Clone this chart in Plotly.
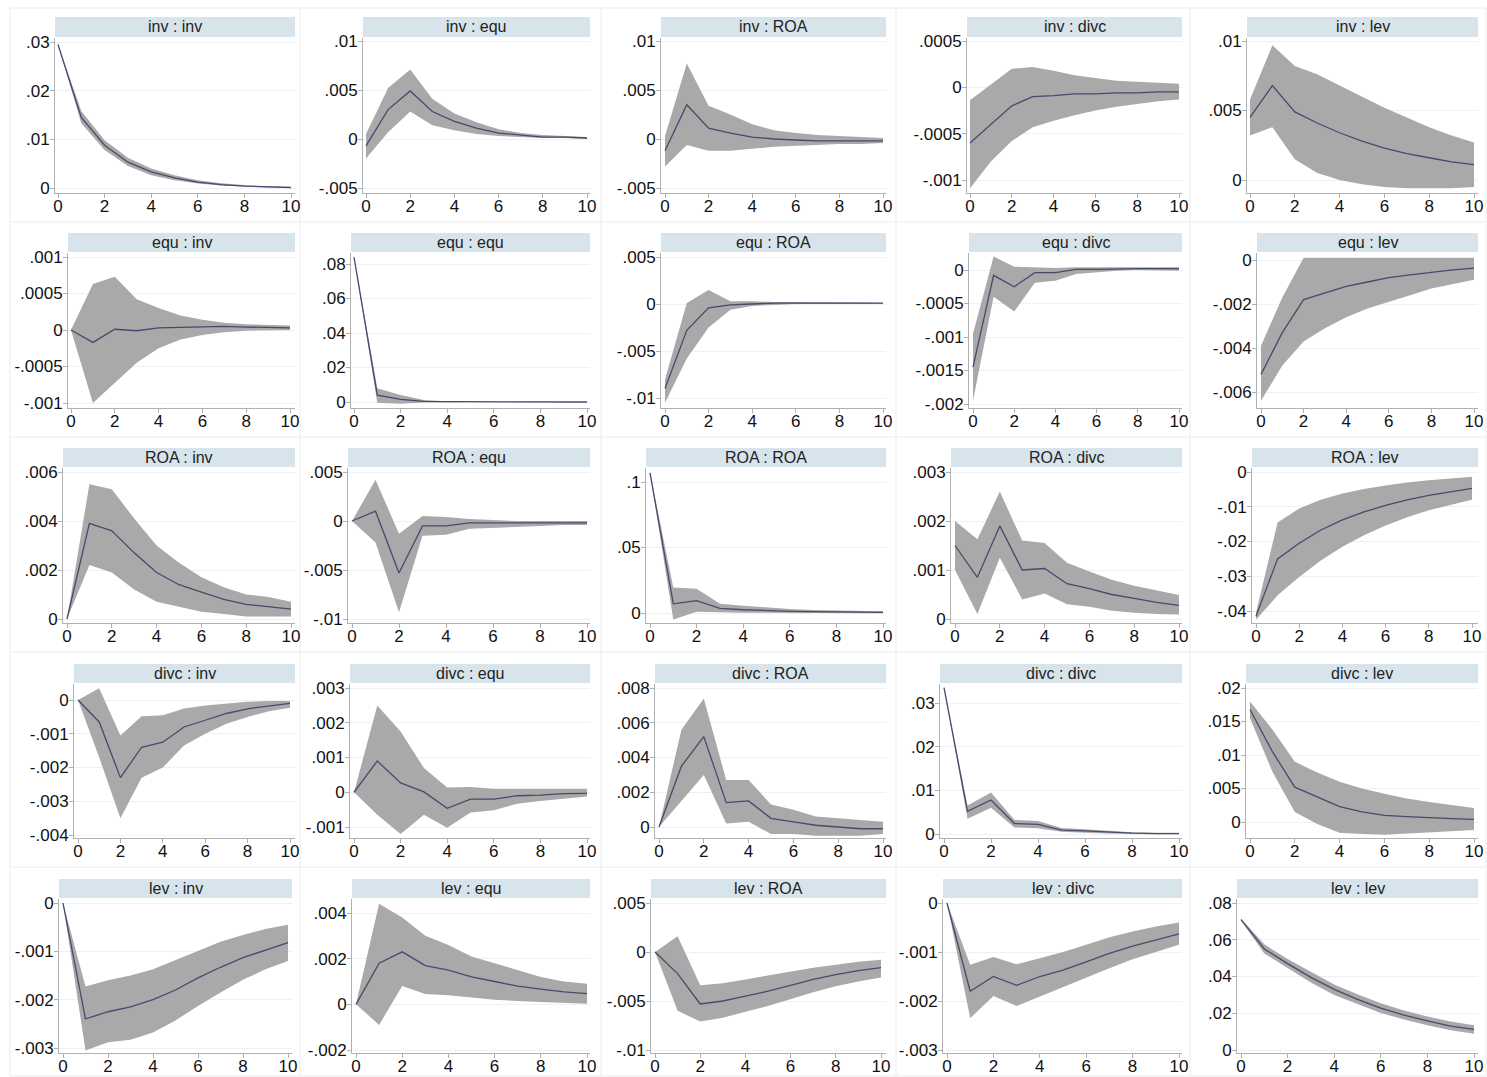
import plotly.graph_objects as go

# ---------------- data ----------------
variables = ["inv", "equ", "ROA", "divc", "lev"]
steps = [0, 1, 2, 3, 4, 5, 6, 7, 8, 9, 10]
x_ticks = [0, 2, 4, 6, 8, 10]

# impulse : response  -> irf, lower, upper
inv_inv_irf = [.0295, .0145, .0088, .0053, .0033, .0021, .0012, .0007, .0004, .0002, .0001]
inv_inv_lo = [.0295, .0133, .0078, .0045, .0026, .0016, .0009, .0005, .0003, .0001, .0000]
inv_inv_hi = [.0295, .0158, .0098, .0062, .0040, .0026, .0016, .0010, .0006, .0003, .0002]

inv_equ_irf = [-.0007, .0030, .0049, .0028, .0018, .0011, .0006, .0004, .0002, .0002, .0001]
inv_equ_lo = [-.0020, .0007, .0028, .0014, .0009, .0005, .0003, .0002, .0001, .0001, .0000]
inv_equ_hi = [.0005, .0052, .0071, .0041, .0026, .0017, .0010, .0006, .0004, .0003, .0002]

inv_ROA_irf = [-.0012, .0035, .0011, .0006, .0002, .0000, -.0001, -.0002, -.0002, -.0002, -.0002]
inv_ROA_lo = [-.0028, -.0006, -.0012, -.0012, -.0010, -.0008, -.0007, -.0006, -.0005, -.0005, -.0004]
inv_ROA_hi = [.0003, .0077, .0034, .0025, .0015, .0009, .0006, .0004, .0003, .0002, .0001]

inv_divc_irf = [-.00060, -.00040, -.00020, -.00010, -.00009, -.00007, -.00007, -.00006, -.00006, -.00005, -.00005]
inv_divc_lo = [-.00109, -.00080, -.00058, -.00043, -.00036, -.00030, -.00025, -.00021, -.00018, -.00015, -.00013]
inv_divc_hi = [-.00014, .00003, .00020, .00022, .00018, .00013, .00010, .00007, .00006, .00005, .00004]

inv_lev_irf = [.0045, .0068, .0049, .0041, .0034, .0028, .0023, .0019, .0016, .0013, .0011]
inv_lev_lo = [.0032, .0038, .0015, .0005, .0000, -.0003, -.0005, -.0006, -.0006, -.0006, -.0005]
inv_lev_hi = [.0058, .0097, .0082, .0076, .0068, .0060, .0052, .0045, .0038, .0032, .0027]

equ_inv_irf = [0, -.00017, .00001, -.00001, .00003, .00004, .00005, .00005, .00004, .00004, .00003]
equ_inv_lo = [0, -.00100, -.00072, -.00045, -.00025, -.00013, -.00007, -.00003, -.00001, .00000, .00000]
equ_inv_hi = [0, .00063, .00073, .00042, .00030, .00020, .00014, .00010, .00008, .00007, .00006]

equ_equ_irf = [.084, .0040, .0015, .0004, .0002, .0001, .0000, .0000, .0000, .0000, .0000]
equ_equ_lo = [.084, -.0005, -.0010, -.0003, -.0001, .0000, .0000, .0000, .0000, .0000, .0000]
equ_equ_hi = [.084, .0080, .0040, .0012, .0005, .0002, .0001, .0001, .0000, .0000, .0000]

equ_ROA_irf = [-.0090, -.0028, -.0004, -.0001, .0000, .0001, .0001, .0001, .0001, .0001, .0001]
equ_ROA_lo = [-.0105, -.0058, -.0025, -.0006, -.0002, -.0001, .0000, .0000, .0000, .0000, .0000]
equ_ROA_hi = [-.0080, .0001, .0015, .0003, .0003, .0002, .0002, .0002, .00015, .00015, .0001]

equ_divc_irf = [-.00145, -.00008, -.00025, -.00004, -.00004, .00001, .00001, .00002, .00002, .00002, .00002]
equ_divc_lo = [-.00195, -.00040, -.00062, -.00019, -.00016, -.00006, -.00003, -.00001, .00000, .00000, -.00001]
equ_divc_hi = [-.00095, .00020, .00005, .00004, .00003, .00004, .00004, .00004, .00004, .00004, .00004]

equ_lev_irf = [-.0052, -.0033, -.0018, -.0015, -.0012, -.0010, -.0008, -.00068, -.00055, -.00045, -.00037]
equ_lev_lo = [-.0064, -.0048, -.0037, -.0031, -.0026, -.0022, -.0019, -.0016, -.0013, -.0011, -.0009]
equ_lev_hi = [-.0039, -.0017, .0001, .0001, .0001, .0001, .0001, .0001, .0001, .0001, .0001]

ROA_inv_irf = [0, .0039, .0036, .0027, .0019, .0014, .0011, .0008, .0006, .0005, .0004]
ROA_inv_lo = [0, .0022, .0019, .0012, .0007, .0005, .0003, .0002, .0001, .0001, .0001]
ROA_inv_hi = [0, .0055, .0053, .0041, .0030, .0023, .0017, .0013, .0010, .0009, .0007]

ROA_equ_irf = [0, .0010, -.0053, -.0005, -.0005, -.0002, -.0002, -.0002, -.0002, -.0002, -.0002]
ROA_equ_lo = [0, -.0022, -.0093, -.0015, -.0014, -.0008, -.0007, -.0006, -.0005, -.0004, -.0004]
ROA_equ_hi = [0, .0042, -.0013, .0005, .0004, .0002, .0001, .0000, .0000, .0000, .0000]

ROA_ROA_irf = [.107, .0070, .0095, .0035, .0025, .0018, .0013, .0010, .0008, .0005, .0005]
ROA_ROA_lo = [.107, -.0050, .0010, .0005, .0002, .0002, .0000, .0000, .0000, -.0001, -.0001]
ROA_ROA_hi = [.107, .0195, .0185, .0070, .0055, .0040, .0030, .0022, .0018, .0015, .0013]

ROA_divc_irf = [.00150, .00085, .00190, .00100, .00103, .00072, .00062, .00050, .00042, .00034, .00028]
ROA_divc_lo = [.00100, .00010, .00125, .00040, .00052, .00030, .00025, .00017, .00013, .00010, .00009]
ROA_divc_hi = [.00200, .00163, .00260, .00160, .00155, .00115, .00097, .00080, .00068, .00058, .00049]

ROA_lev_irf = [-.0415, -.0250, -.0205, -.0167, -.0138, -.0115, -.0096, -.0080, -.0067, -.0056, -.0047]
ROA_lev_lo = [-.0425, -.0355, -.0302, -.0255, -.0215, -.0182, -.0154, -.0130, -.0110, -.0094, -.0080]
ROA_lev_hi = [-.0405, -.0145, -.0105, -.0080, -.0062, -.0049, -.0039, -.0030, -.0024, -.0018, -.0014]

divc_inv_irf = [0, -.00065, -.00230, -.00140, -.00125, -.00080, -.00060, -.00040, -.00026, -.00017, -.00010]
divc_inv_lo = [0, -.00170, -.00350, -.00230, -.00200, -.00135, -.00100, -.00070, -.00050, -.00033, -.00023]
divc_inv_hi = [0, .00035, -.00105, -.00048, -.00045, -.00025, -.00016, -.00010, -.00005, -.00003, -.00003]

divc_equ_irf = [0, .00090, .00027, .00001, -.00046, -.00020, -.00020, -.00010, -.00008, -.00004, -.00003]
divc_equ_lo = [0, -.00065, -.00120, -.00065, -.00102, -.00058, -.00052, -.00033, -.00025, -.00018, -.00012]
divc_equ_hi = [0, .00250, .00175, .00070, .00014, .00015, .00010, .00010, .00010, .00010, .00010]

divc_ROA_irf = [0, .0035, .0052, .0014, .0015, .0005, .0003, .0001, .0000, -.0001, -.0001]
divc_ROA_lo = [0, .0015, .0030, .0002, .0003, -.0004, -.0004, -.0005, -.0005, -.0005, -.0004]
divc_ROA_hi = [0, .0056, .0074, .0027, .0027, .0013, .0010, .0006, .0005, .0004, .0003]

divc_divc_irf = [.0335, .0052, .0078, .0024, .0022, .0009, .0007, .0004, .0002, .0001, .0001]
divc_divc_lo = [.0335, .0035, .0060, .0015, .0013, .0005, .0003, .0001, .0000, .0000, .0000]
divc_divc_hi = [.0335, .0065, .0095, .0032, .0030, .0014, .0011, .0007, .0004, .0003, .0003]

divc_lev_irf = [.0168, .0105, .0052, .0037, .0023, .0015, .0010, .0008, .0006, .0005, .0004]
divc_lev_lo = [.0155, .0075, .0015, -.0003, -.0016, -.0018, -.0019, -.0018, -.0016, -.0014, -.0012]
divc_lev_hi = [.0180, .0138, .0090, .0074, .0060, .0050, .0042, .0035, .0030, .0025, .0021]

lev_inv_irf = [0, -.00240, -.00225, -.00215, -.00200, -.00180, -.00155, -.00133, -.00113, -.00097, -.00082]
lev_inv_lo = [0, -.00305, -.00288, -.00283, -.00268, -.00243, -.00213, -.00185, -.00159, -.00137, -.00120]
lev_inv_hi = [0, -.00173, -.00160, -.00150, -.00137, -.00118, -.00098, -.00080, -.00066, -.00054, -.00045]

lev_equ_irf = [0, .0018, .0023, .0017, .0015, .0012, .0010, .0008, .00067, .00055, .00047]
lev_equ_lo = [0, -.0009, .0008, .00045, .0004, .0003, .0002, .00015, .0001, .00005, .00003]
lev_equ_hi = [0, .0044, .0038, .0030, .0026, .0021, .0018, .0015, .0012, .0010, .0009]

lev_ROA_irf = [0, -.0022, -.0053, -.0050, -.0045, -.0040, -.0034, -.0028, -.0023, -.0019, -.0016]
lev_ROA_lo = [0, -.0060, -.0071, -.0067, -.0061, -.0055, -.0048, -.0041, -.0035, -.0030, -.0026]
lev_ROA_hi = [0, .0016, -.0034, -.0032, -.0028, -.0024, -.0020, -.0016, -.0013, -.0010, -.0008]

lev_divc_irf = [0, -.00180, -.00150, -.00168, -.00150, -.00137, -.00120, -.00103, -.00088, -.00075, -.00063]
lev_divc_lo = [0, -.00235, -.00190, -.00210, -.00190, -.00172, -.00152, -.00133, -.00115, -.00100, -.00085]
lev_divc_hi = [0, -.00126, -.00110, -.00125, -.00113, -.00100, -.00085, -.00070, -.00058, -.00048, -.00040]

lev_lev_irf = [.0710, .0550, .0470, .0395, .0330, .0275, .0228, .0190, .0158, .0130, .0112]
lev_lev_lo = [.0705, .0525, .0445, .0368, .0300, .0250, .0202, .0166, .0135, .0108, .0088]
lev_lev_hi = [.0715, .0575, .0495, .0425, .0357, .0303, .0255, .0215, .0182, .0155, .0135]

# y tick values per panel (row = impulse, column = response)
y_ticks = [
    [[0, .01, .02, .03], [-.005, 0, .005, .01], [-.005, 0, .005, .01], [-.001, -.0005, 0, .0005], [0, .005, .01]],
    [[-.001, -.0005, 0, .0005, .001], [0, .02, .04, .06, .08], [-.01, -.005, 0, .005], [-.002, -.0015, -.001, -.0005, 0], [-.006, -.004, -.002, 0]],
    [[0, .002, .004, .006], [-.01, -.005, 0, .005], [0, .05, .1], [0, .001, .002, .003], [-.04, -.03, -.02, -.01, 0]],
    [[-.004, -.003, -.002, -.001, 0], [-.001, 0, .001, .002, .003], [0, .002, .004, .006, .008], [0, .01, .02, .03], [0, .005, .01, .015, .02]],
    [[-.003, -.002, -.001, 0], [-.002, 0, .002, .004], [-.01, -.005, 0, .005], [-.003, -.002, -.001, 0], [0, .02, .04, .06, .08]],
]

series = {name: obj for name, obj in globals().items() if isinstance(obj, list)}


def fmt(v):
    if v == 0:
        return "0"
    s = f"{v:f}".rstrip("0")
    return s.replace("0.", ".", 1)


# ---------------- layout geometry (pixels) ----------------
W, H = 1487, 1077
# per row: strip top, strip bottom, plot top, plot bottom
row_geom = [(17, 37, 38, 193), (233, 252, 253, 408), (448, 467, 468, 623),
            (664, 683, 684, 838), (879, 898, 899, 1053)]
# per panel: plot left, plot right, pixel of x=0, pixel of x=10
x_geom = [
    [(55, 295, 58, 291), (363, 590, 366, 587), (661, 886, 665, 883), (967, 1182, 970, 1179), (1247, 1478, 1250, 1474)],
    [(68, 295, 71, 290), (351, 590, 354, 587), (661, 886, 665, 883), (969, 1182, 973, 1179), (1257, 1478, 1261, 1474)],
    [(63, 295, 67, 291), (348, 590, 352, 587), (646, 886, 650, 883), (951, 1182, 955, 1179), (1252, 1478, 1256, 1472)],
    [(74, 295, 78, 290), (350, 590, 354, 587), (655, 886, 659, 883), (940, 1182, 944, 1179), (1246, 1478, 1250, 1474)],
    [(59, 292, 63, 288), (352, 590, 356, 587), (651, 886, 655, 881), (943, 1182, 947, 1179), (1237, 1478, 1241, 1474)],
]
# per panel: (top tick value, pixel), (bottom tick value, pixel)
y_anchor = [
    [((.03, 42), (0, 188)), ((.01, 41), (-.005, 188)), ((.01, 41), (-.005, 188)), ((.0005, 41), (-.001, 180)), ((.01, 41), (0, 180))],
    [((.001, 257), (-.001, 403)), ((.08, 264), (0, 402)), ((.005, 257), (-.01, 398)), ((0, 270), (-.002, 404)), ((0, 260), (-.006, 392))],
    [((.006, 472), (0, 619)), ((.005, 472), (-.01, 619)), ((.1, 482), (0, 613)), ((.003, 472), (0, 619)), ((0, 472), (-.04, 611))],
    [((0, 700), (-.004, 835)), ((.003, 688), (-.001, 827)), ((.008, 688), (0, 827)), ((.03, 703), (0, 834)), ((.02, 688), (0, 822))],
    [((0, 903), (-.003, 1048)), ((.004, 913), (-.002, 1050)), ((.005, 903), (-.01, 1050)), ((0, 903), (-.003, 1050)), ((.08, 903), (0, 1050))],
]

BAND = "#a9a9a9"
LINE = "#454b6c"
STRIP = "#d7e4eb"
AXIS = "#b0b0b0"
FONT = "Liberation Sans, Arial, sans-serif"
TICK_SIZE = 17

fig = go.Figure()
shapes = []
annotations = []
layout_axes = {}

for r, imp in enumerate(variables):
    for c, resp in enumerate(variables):
        n = r * 5 + c + 1
        xa = "x" if n == 1 else f"x{n}"
        ya = "y" if n == 1 else f"y{n}"
        irf = series[f"{imp}_{resp}_irf"]
        lo = series[f"{imp}_{resp}_lo"]
        hi = series[f"{imp}_{resp}_hi"]

        fig.add_trace(go.Scatter(
            x=steps + steps[::-1], y=hi + lo[::-1], fill="toself",
            fillcolor=BAND, line=dict(width=0, color=BAND), mode="lines",
            hoverinfo="skip", showlegend=False, xaxis=xa, yaxis=ya))
        fig.add_trace(go.Scatter(
            x=steps, y=irf, mode="lines", line=dict(color=LINE, width=1.3),
            showlegend=False, xaxis=xa, yaxis=ya))

        st, sb, pt, pbot = row_geom[r]
        pl, pr, p0, p10 = x_geom[r][c]
        (va, pa), (vb, pb) = y_anchor[r][c]
        xs = (p10 - p0) / 10.0
        xr = [(pl - p0) / xs, 10 + (pr - p10) / xs]
        ys = (pb - pa) / (va - vb)
        yr = [vb - (pbot - pb) / ys, va + (pa - pt) / ys]

        ticks = y_ticks[r][c]
        layout_axes["xaxis" if n == 1 else f"xaxis{n}"] = dict(
            domain=[pl / W, pr / W], range=xr, anchor=ya, automargin=False,
            tickvals=x_ticks, ticktext=[str(t) for t in x_ticks],
            ticks="outside", ticklen=4, tickcolor=AXIS, tickwidth=1,
            ticklabelstandoff=-6,
            showline=True, linecolor=AXIS, linewidth=1,
            showgrid=False, zeroline=False,
            tickfont=dict(family=FONT, size=TICK_SIZE, color="#111111"))
        layout_axes["yaxis" if n == 1 else f"yaxis{n}"] = dict(
            domain=[1 - pbot / H, 1 - pt / H], range=yr, anchor=xa, automargin=False,
            tickvals=ticks, ticktext=[fmt(t) for t in ticks],
            ticks="outside", ticklen=4, tickcolor=AXIS, tickwidth=1,
            ticklabelstandoff=-3,
            showline=True, linecolor=AXIS, linewidth=1,
            showgrid=True, gridcolor="#eef1f3", gridwidth=1, zeroline=False,
            tickfont=dict(family=FONT, size=TICK_SIZE, color="#111111"))

        shapes.append(dict(type="rect", xref="paper", yref="paper",
                           x0=pl / W, x1=pr / W, y0=1 - sb / H, y1=1 - st / H,
                           fillcolor=STRIP, line=dict(width=0), layer="below"))
        annotations.append(dict(xref="paper", yref="paper",
                                x=(pl + pr) / 2 / W, y=1 - (st + sb) / 2 / H,
                                text=f"{imp} : {resp}", showarrow=False,
                                xanchor="center", yanchor="middle",
                                font=dict(family=FONT, size=16, color="#222222")))

# faint cell borders of the combined graph
col_edges = [10, 300, 601, 896, 1190, 1486]
row_edges = [8, 222, 437, 652, 867, 1076]
for xe in col_edges:
    shapes.append(dict(type="line", xref="paper", yref="paper", x0=xe / W, x1=xe / W,
                       y0=1 - row_edges[-1] / H, y1=1 - row_edges[0] / H,
                       line=dict(color="#ececec", width=1), layer="below"))
for ye in row_edges:
    shapes.append(dict(type="line", xref="paper", yref="paper", x0=col_edges[0] / W,
                       x1=col_edges[-1] / W, y0=1 - ye / H, y1=1 - ye / H,
                       line=dict(color="#ececec", width=1), layer="below"))

fig.update_layout(
    width=W, height=H, margin=dict(l=0, r=0, t=0, b=0, pad=0, autoexpand=False),
    paper_bgcolor="white", plot_bgcolor="white",
    shapes=shapes, annotations=annotations, showlegend=False,
    font=dict(family=FONT), **layout_axes)

fig.write_html(
    "out.html",
    config={"displayModeBar": False},
    post_script="document.body.style.margin='0';document.body.style.overflow='hidden';",
)
